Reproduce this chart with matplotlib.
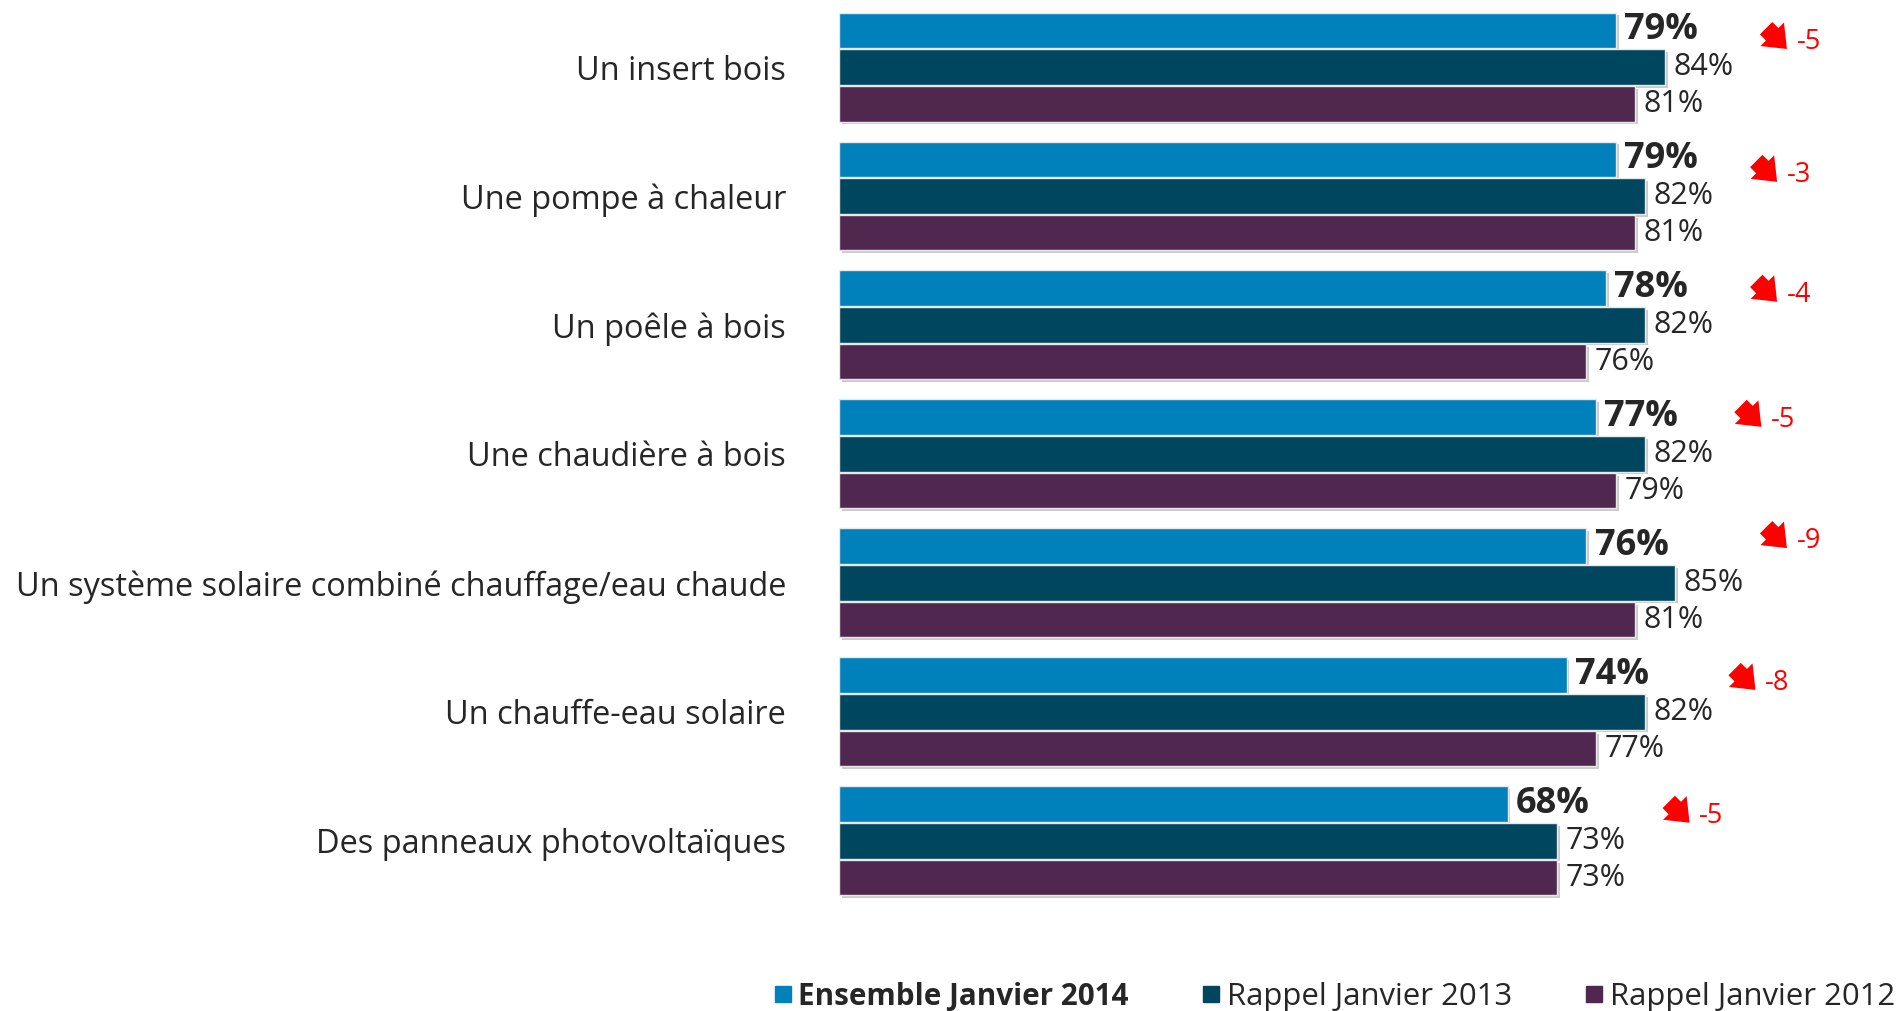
import matplotlib
matplotlib.use('Agg')
import matplotlib.pyplot as plt
import matplotlib.patheffects as pe
from matplotlib.lines import Line2D
import numpy as np

plt.rcParams['font.family'] = ['Open Sans', 'DejaVu Sans']

# Data
categories = ['Un insert bois', 'Une pompe à chaleur', 'Un poêle à bois',
              'Une chaudière à bois', 'Un système solaire combiné chauffage/eau chaude',
              'Un chauffe-eau solaire', 'Des panneaux photovoltaïques']
jan_2014 = [79, 79, 78, 77, 76, 74, 68]
jan_2013 = [84, 82, 82, 82, 85, 82, 73]
jan_2012 = [81, 81, 76, 79, 81, 77, 73]
evolution = ['-5', '-3', '-4', '-5', '-9', '-8', '-5']
series_names = ['Ensemble Janvier 2014', 'Rappel Janvier 2013', 'Rappel Janvier 2012']
colors = ['#0081BB', '#00465F', '#50284F']
# where the red evolution arrows sit (arrow tip, data units / offset from group centre)
arrow_x = [96.4, 95.4, 95.4, 93.8, 96.4, 93.2, 86.5]
arrow_dy = [-0.14, -0.11, -0.18, -0.21, -0.27, -0.17, -0.14]

fig = plt.figure(figsize=(19.01, 10.11), dpi=100)
ax = fig.add_axes([0.4413, 0.0, 0.5587, 1.0])

y = np.arange(len(categories))
h = 0.275
offsets = [-0.285, 0.0, 0.285]
shadow = [pe.SimplePatchShadow(offset=(2, -2), shadow_rgbFace='#999999', alpha=0.5), pe.Normal()]

for vals, off, col, bold in zip([jan_2014, jan_2013, jan_2012], offsets, colors, [True, False, False]):
    bars = ax.barh(y + off, vals, height=h, color=col, edgecolor='#e8e8e8', linewidth=1)
    for b in bars:
        b.set_path_effects(shadow)
    for yy, v in zip(y + off, vals):
        ax.annotate(f'{v}%', xy=(v, yy), xytext=(6, 0), textcoords='offset points',
                    va='center', ha='left', color='#262626',
                    fontsize=26 if bold else 22, fontweight='bold' if bold else 'normal')

# red arrows with evolution
for yy, ev, ax_x, dy in zip(y, evolution, arrow_x, arrow_dy):
    tip = (ax_x, yy + dy)
    ax.annotate('', xy=tip, xytext=(-15, 15), textcoords='offset points',
                arrowprops=dict(arrowstyle='simple,head_width=0.8,head_length=0.5,tail_width=0.42',
                                color='#FF0000', lw=0, mutation_scale=30, shrinkA=0, shrinkB=0))
    ax.annotate(ev, xy=tip, xytext=(7, 0), textcoords='offset points',
                va='baseline', ha='left', color='#FF0000', fontsize=19.5)

ax.set_xlim(0, 108)
ax.set_ylim(7.32, -0.52)
ax.set_yticks(y)
ax.set_yticklabels(categories, fontsize=23.4, color='#262626')
ax.tick_params(axis='y', length=0, pad=38)
ax.set_xticks([])
for s in ax.spines.values():
    s.set_visible(False)

handles = [Line2D([], [], marker='s', linestyle='', markersize=12, color=c) for c in colors]
leg = fig.legend(handles, series_names, loc='center right', bbox_to_anchor=(0.997, 0.014),
                 ncol=3, frameon=False, fontsize=22.4, handletextpad=0.15, columnspacing=2.3,
                 handlelength=0.7, borderpad=0, borderaxespad=0)
for t in leg.get_texts():
    t.set_color('#262626')
leg.get_texts()[0].set_fontweight('bold')
leg.get_texts()[0].set_fontsize(21.3)

fig.savefig('out.png', dpi=100)
